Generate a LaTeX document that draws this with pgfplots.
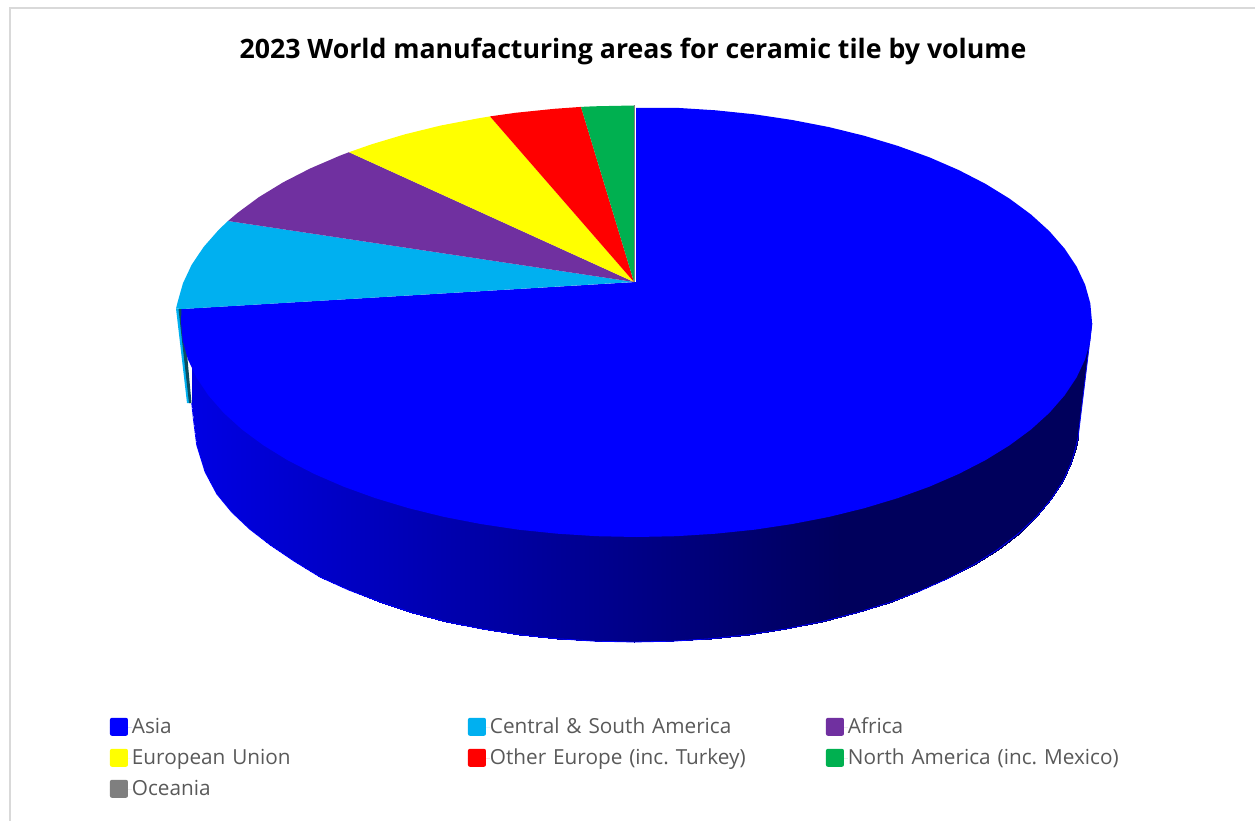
\documentclass[border=0pt]{standalone}
\usepackage{fontspec}
\setmainfont{Open Sans}
\usepackage{pgfplots}
\usepackage{pgfplotstable}
\pgfplotsset{compat=1.18}

% Outer rim of the cylinder wall, left to right
\pgfplotstableread{
x y
191.7 403.0
193.5 420.0
196.7 445.0
205.1 472.0
216.8 494.0
231.6 512.0
249.5 529.0
270.3 545.0
293.9 561.0
320.0 577.0
348.6 590.0
379.3 601.5
412.0 612.5
446.4 621.7
482.1 628.9
519.1 634.6
556.9 638.7
595.3 641.2
634.0 642.0
672.7 641.2
711.1 638.7
748.9 634.6
785.9 628.9
821.6 621.7
856.0 612.9
888.7 602.8
919.4 591.2
948.0 578.4
974.1 564.5
997.7 549.5
1018.5 533.5
1036.4 516.7
1051.2 499.2
1062.9 481.2
1071.3 462.7
1075.5 448.0
1078.0 438.0
}\wallrim

% Same rim paired with a line hidden under the top face
\pgfplotstableread{
x y
191.7 360
193.5 360
196.7 360
205.1 360
216.8 360
231.6 360
249.5 360
270.3 360
293.9 360
320.0 360
348.6 360
379.3 360
412.0 360
446.4 360
482.1 360
519.1 360
556.9 360
595.3 360
634.0 360
672.7 360
711.1 360
748.9 360
785.9 360
821.6 360
856.0 360
888.7 360
919.4 360
948.0 360
974.1 360
997.7 360
1018.5 360
1036.4 360
1051.2 360
1062.9 360
1071.3 360
1075.5 360
1078.0 360
191.7 403.0
193.5 420.0
196.7 445.0
205.1 472.0
216.8 494.0
231.6 512.0
249.5 529.0
270.3 545.0
293.9 561.0
320.0 577.0
348.6 590.0
379.3 601.5
412.0 612.5
446.4 621.7
482.1 628.9
519.1 634.6
556.9 638.7
595.3 641.2
634.0 642.0
672.7 641.2
711.1 638.7
748.9 634.6
785.9 628.9
821.6 621.7
856.0 612.9
888.7 602.8
919.4 591.2
948.0 578.4
974.1 564.5
997.7 549.5
1018.5 533.5
1036.4 516.7
1051.2 499.2
1062.9 481.2
1071.3 462.7
1075.5 448.0
1078.0 438.0
}\wallmesh

\definecolor{asia}{HTML}{0000FF}
\definecolor{csam}{HTML}{00B0F0}
\definecolor{afr}{HTML}{7030A0}
\definecolor{eu}{HTML}{FFFF00}
\definecolor{oeu}{HTML}{FF0000}
\definecolor{nam}{HTML}{00B050}
\definecolor{oce}{HTML}{7F7F7F}
\definecolor{legtext}{HTML}{595959}
\definecolor{framegray}{HTML}{D9D9D9}
\definecolor{navy}{RGB}{0,0,92}
\definecolor{edgeteal}{HTML}{0B4D60}

\begin{document}
\begin{tikzpicture}
\path[use as bounding box] (0,0) rectangle (1255pt,821pt);
\begin{axis}[
  at={(0,0)}, anchor=south west,
  width=1255pt, height=821pt, scale only axis,
  xmin=0, xmax=1255, ymin=0, ymax=821, y dir=reverse,
  hide axis,
  colormap={wallshade}{rgb255(0cm)=(0,0,228); rgb255(65cm)=(0,0,92); rgb255(90cm)=(0,0,92)},
  point meta min=190, point meta max=1090,
  legend columns=3,
  legend cell align=left,
  legend image code/.code={\path (0pt,0pt) -- (22pt,0pt); \fill[#1,rounded corners=2pt] (0pt,-8pt) rectangle (18pt,10pt);},
  legend style={
    at={(0.0876,0.1257)}, anchor=north west,
    draw=none, fill=none, inner sep=0pt, outer sep=0pt,
    font=\fontsize{20.75}{24}\selectfont\frenchspacing\color{legtext},
    row sep=11pt,
    nodes={inner sep=0pt, outer sep=0pt, text depth=4pt, text height=16pt, text width=336pt, align=left},
  },
]
% Wall of the disc
\addplot[forget plot, surf, shader=interp, mesh/rows=2, mesh/ordering=x varies, point meta=x]
  table[x=x, y=y] {\wallmesh};
\addplot[forget plot, fill=navy, draw=none] coordinates {(1070,340) (1092,323) (1078,438) (1070,438)} -- cycle;
\addplot[forget plot, asia, line width=0.8pt] coordinates {(1092,323) (1078,438)};
\addplot[forget plot, asia, line width=0.8pt] table[x=x, y=y] {\wallrim};

% Exposed end of the neighbouring slice
\addplot[forget plot, fill=csam, draw=none] coordinates {(176,308.5) (179,309) (190,403) (187,403)} -- cycle;
\addplot[forget plot, fill=edgeteal, draw=none] coordinates {(178.5,309) (183,309) (191.5,403) (189,403)} -- cycle;

% Top faces
\addplot[fill=asia, draw=none] coordinates {
 (636,282) (636,108) (676.2,107.8) (715.6,110.3) (754.4,114.3) (792.3,120.0)
 (829.0,127.1) (864.3,135.8) (897.8,145.9) (929.3,157.3) (958.6,170.0) (985.4,183.8)
 (1009.6,198.7) (1031.0,214.5) (1049.3,231.1) (1064.5,248.5) (1076.5,266.4) (1085.1,284.7)
 (1090.3,303.3) (1092,322) (1090.3,340.7) (1085.1,359.3) (1076.5,377.6) (1064.5,395.5)
 (1049.3,412.9) (1031.0,429.5) (1009.6,445.3) (985.4,460.2) (958.6,474.0) (929.3,486.7)
 (897.8,498.1) (864.3,508.2) (829.0,516.9) (792.3,524.0) (754.4,529.7) (715.6,533.7)
 (676.2,536.2) (636.5,537) (596.8,536.2) (557.4,533.7) (518.6,529.7) (480.7,524.0)
 (444.0,516.9) (408.7,508.2) (375.2,498.1) (343.7,486.7) (314.4,474.0) (287.6,460.2)
 (263.4,445.3) (242.0,429.5) (223.7,412.9) (208.5,395.5) (196.5,377.6) (187.9,359.3)
 (182.7,340.7) (181,322) (181.5,309)
} -- cycle;
\addlegendentry{Asia}
\addplot[fill=csam, draw=none] coordinates {
 (634,282) (228,221) (218.9,229.6) (203.6,247) (191.6,264.9) (183,283.2) (177.7,301.8) (176,308.5) (182,309)
} -- cycle;
\addlegendentry{Central \& South America}
\addplot[fill=afr, draw=none] coordinates {
 (634,282) (349,152.2) (339.6,155.8) (310.1,168.5) (283.2,182.3) (258.8,197.2) (237.4,213) (228,221)
} -- cycle;
\addlegendentry{Africa}
\addplot[fill=eu, draw=none] coordinates {
 (634,282) (490,116.4) (477.4,118.5) (440.4,125.6) (405,134.3) (371.3,144.4) (349,152.2)
} -- cycle;
\addlegendentry{European Union}
\addplot[fill=oeu, draw=none] coordinates {
 (634,282) (581,106.9) (554.5,108.8) (515.5,112.8) (490,116.4)
} -- cycle;
\addlegendentry{Other Europe (inc. Turkey)}
\addplot[fill=nam, draw=none] coordinates {
 (634,282) (634,105.5) (594.1,106.3) (581,106.9)
} -- cycle;
\addlegendentry{North America (inc. Mexico)}
\addplot[fill=oce, draw=none] coordinates {
 (633.6,282) (633.6,105.5) (635,105.5) (635,282)
} -- cycle;
\addlegendentry{Oceania}

% Chart frame and title
\draw[framegray, line width=2pt] (axis cs:9.5,821) -- (axis cs:9.5,8) -- (axis cs:1255,8);
\node[font=\fontsize{26.7}{30}\selectfont\bfseries, text=black, anchor=center] at (axis cs:633,51) {2023 World manufacturing areas for ceramic tile by volume};
\end{axis}
\end{tikzpicture}
\end{document}
